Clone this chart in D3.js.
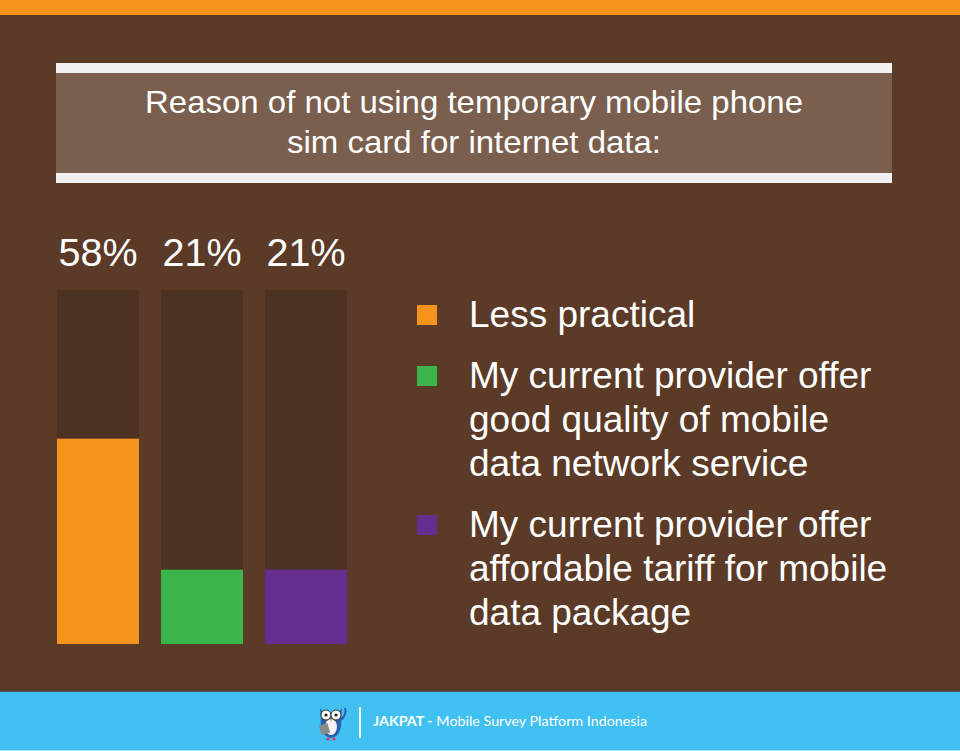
<!DOCTYPE html>
<html><head><meta charset="utf-8">
<script src="https://cdn.jsdelivr.net/npm/d3@7"></script>
<style>html,body{margin:0;padding:0;background:#5b3a27;}svg{display:block;}</style>
</head><body><svg id="c" width="960" height="751"></svg>
<script>
const titleLines = ["Reason of not using temporary mobile phone", "sim card for internet data:"];
const categories = ["Less practical", "Good quality network", "Affordable tariff"];
const values = [58, 21, 21];
const colors = ["#f7941e", "#3ab54a", "#662d91"];
const legendLabels = [
  ["Less practical"],
  ["My current provider offer", "good quality of mobile", "data network service"],
  ["My current provider offer", "affordable tariff for mobile", "data package"]
];
const footerBold = "JAKPAT -";
const footerText = " Mobile Survey Platform Indonesia";

const svg = d3.select("#c");
const W = 960, H = 751;
const font = "'Liberation Sans', Arial, Helvetica, sans-serif";

svg.append("rect").attr("width", W).attr("height", H).attr("fill", "#5b3a27");
svg.append("rect").attr("width", W).attr("height", 15).attr("fill", "#f7941e");

// Title box
svg.append("rect").attr("x", 56).attr("y", 63).attr("width", 836).attr("height", 120).attr("fill", "#f1f1f1");
svg.append("rect").attr("x", 56).attr("y", 73).attr("width", 836).attr("height", 100).attr("fill", "#7a5f4e");
const tl = [658, 374];
svg.selectAll("text.title").data(titleLines).enter().append("text")
  .attr("class", "title")
  .attr("x", 474).attr("y", (d, i) => 113 + i * 40)
  .attr("text-anchor", "middle")
  .attr("font-family", font).attr("font-size", 32).attr("fill", "#fff")
  .attr("textLength", (d, i) => tl[i]).attr("lengthAdjust", "spacingAndGlyphs")
  .text(d => d);

// Bars
const x = d3.scaleBand().domain(categories).range([57, 347]).paddingInner(22 / 104).paddingOuter(0);
const y = d3.scaleLinear().domain([0, 100]).range([644, 290]);

svg.selectAll("rect.track").data(categories).enter().append("rect")
  .attr("class", "track")
  .attr("x", d => x(d)).attr("y", y(100))
  .attr("width", x.bandwidth()).attr("height", y(0) - y(100))
  .attr("fill", "#4d3122");

svg.selectAll("rect.bar").data(values).enter().append("rect")
  .attr("class", "bar")
  .attr("x", (d, i) => x(categories[i])).attr("y", d => y(d))
  .attr("width", x.bandwidth()).attr("height", d => y(0) - y(d))
  .attr("fill", (d, i) => colors[i]);

svg.selectAll("text.pct").data(values).enter().append("text")
  .attr("class", "pct")
  .attr("x", (d, i) => x(categories[i]) + x.bandwidth() / 2)
  .attr("y", 266)
  .attr("text-anchor", "middle")
  .attr("font-family", font).attr("font-size", 39.5).attr("fill", "#fff")
  .text(d => d + "%");

// Legend
const lineH = 44;
let yy = 327;
legendLabels.forEach((lines, i) => {
  const g = svg.append("g");
  g.append("rect").attr("x", 417).attr("y", yy - 22).attr("width", 20).attr("height", 20).attr("fill", colors[i]);
  lines.forEach((t, j) => {
    g.append("text").attr("x", 469).attr("y", yy + j * lineH)
      .attr("font-family", font).attr("font-size", 37).attr("fill", "#fff").text(t);
  });
  yy += lines.length * lineH + 17;
});

// Footer
svg.append("rect").attr("x", 0).attr("y", 691).attr("width", W).attr("height", 1).attr("fill", "#4f5a60");
svg.append("rect").attr("x", 0).attr("y", 692).attr("width", W).attr("height", 59).attr("fill", "#40c1f2");
svg.append("rect").attr("x", 0).attr("y", 750).attr("width", W).attr("height", 1).attr("fill", "#a9e4fa");

// Owl logo
const owl = svg.append("g").attr("transform", "translate(331,722)");
owl.append("path").attr("d", "M-10,-6 Q-12,14 0,16 Q12,14 10,-6 Z").attr("fill", "#2a5fa8");
owl.append("ellipse").attr("cx", 0).attr("cy", 5).attr("rx", 6).attr("ry", 8).attr("fill", "#f2f2f2");
owl.append("path").attr("d", "M-11,-14 L-7,-9 L7,-9 L11,-14 L10,-4 L-10,-4 Z").attr("fill", "#2a5fa8");
owl.append("circle").attr("cx", -5).attr("cy", -7).attr("r", 5).attr("fill", "#fff").attr("stroke", "#333").attr("stroke-width", 1);
owl.append("circle").attr("cx", 5).attr("cy", -7).attr("r", 5).attr("fill", "#fff").attr("stroke", "#333").attr("stroke-width", 1);
owl.append("circle").attr("cx", -5).attr("cy", -7).attr("r", 1.6).attr("fill", "#222");
owl.append("circle").attr("cx", 5).attr("cy", -7).attr("r", 1.6).attr("fill", "#222");
owl.append("path").attr("d", "M-1.5,-3 L1.5,-3 L0,0 Z").attr("fill", "#f7b21e");
owl.append("rect").attr("x", -11).attr("y", 2).attr("width", 9).attr("height", 10).attr("fill", "#8a8a8a").attr("transform", "rotate(-15,-6,7)");
owl.append("path").attr("d", "M10,-2 Q16,-8 14,-14").attr("stroke", "#2a5fa8").attr("stroke-width", 2).attr("fill", "none");
owl.append("circle").attr("cx", -3).attr("cy", 17).attr("r", 1.6).attr("fill", "#e2336b");
owl.append("circle").attr("cx", 3).attr("cy", 17).attr("r", 1.6).attr("fill", "#e2336b");

svg.append("rect").attr("x", 359).attr("y", 707).attr("width", 2).attr("height", 31).attr("fill", "#fff");
const ft = svg.append("text").attr("x", 373).attr("y", 726)
  .attr("font-family", "Lato, 'Noto Sans', sans-serif").attr("font-size", 14).attr("fill", "#fff")
  .attr("textLength", 274).attr("lengthAdjust", "spacingAndGlyphs");
ft.append("tspan").attr("font-weight", "bold").text(footerBold);
ft.append("tspan").text(footerText);
</script></body></html>
